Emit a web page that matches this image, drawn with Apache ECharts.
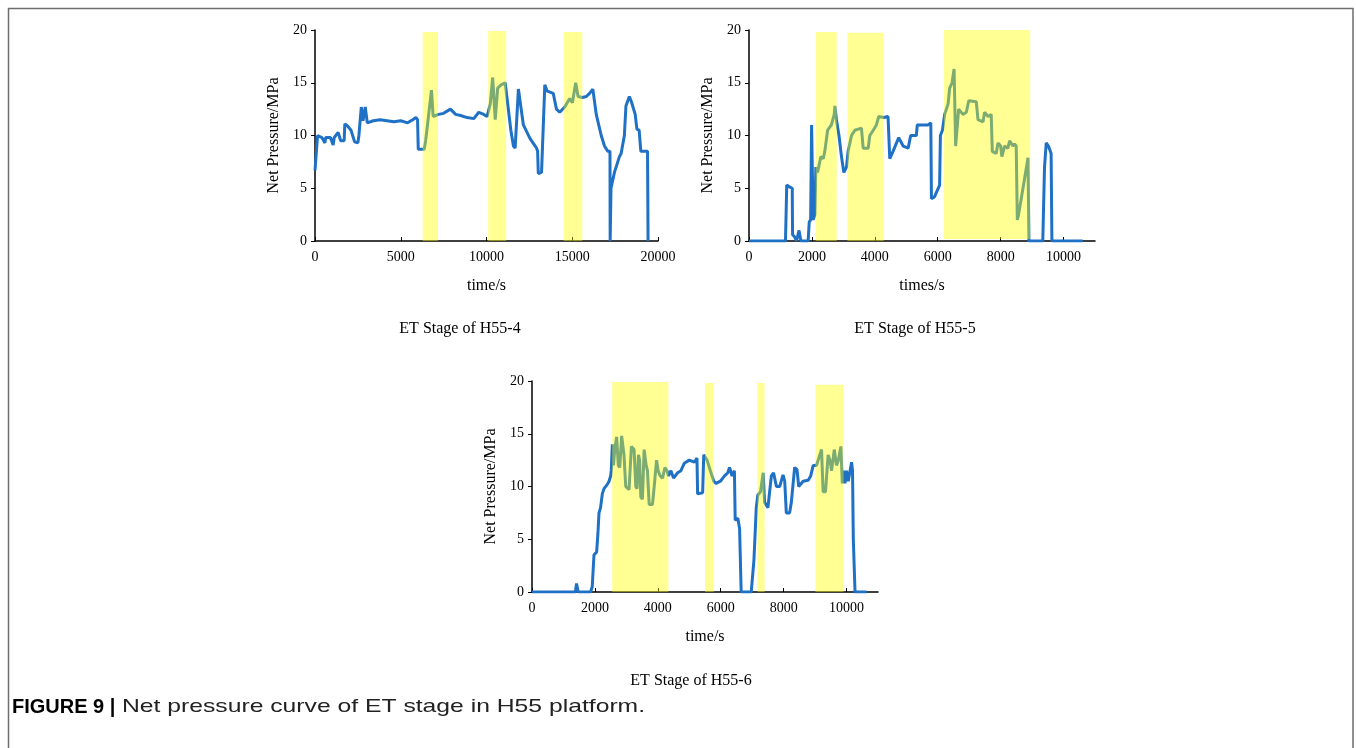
<!DOCTYPE html>
<html><head><meta charset="utf-8">
<script src="https://cdn.jsdelivr.net/npm/echarts@6/dist/echarts.min.js"></script>
<style>html,body{margin:0;padding:0;background:#fff}#c{width:1356px;height:748px}</style>
</head><body><div id="c"></div><script>
// ---- H55-4 ----
const t1 = [0,150,400,580,620,900,1060,1120,1350,1450,1500,1700,1740,1900,2100,2310,2500,2560,2700,2800,2930,3050,3400,3800,4200,4600,5000,5400,5700,5880,5980,6020,6370,6450,6560,6790,6890,7200,7500,7900,8200,8490,8870,9260,9550,9840,10030,10220,10360,10510,10650,10850,11090,11190,11420,11570,11670,11860,12150,12540,12920,12980,13020,13210,13400,13540,13890,14080,14270,14560,14850,15010,15200,15340,15590,15820,16010,16200,16400,16690,16880,17070,17200,17210,17260,17460,17750,17850,18040,18130,18330,18450,18560,18670,18770,18900,19000,19390,19420];
const p1 = [6.7,10.0,9.8,9.3,9.8,9.8,9.1,9.8,10.3,10.3,9.5,9.5,11.1,10.9,10.5,9.4,9.3,10,12.7,11.4,12.7,11.2,11.4,11.5,11.4,11.3,11.4,11.2,11.5,11.7,11.5,8.7,8.7,9.5,11.0,14.3,11.8,12.0,12.1,12.5,12.0,11.9,11.7,11.6,12.2,12.0,11.8,13.0,15.5,11.5,14.5,14.8,15.0,15.0,10.5,9.0,8.8,14.4,11.0,9.7,8.8,8.5,6.4,6.5,14.8,14.2,14.0,12.5,12.2,12.7,13.5,13.1,15.0,13.7,13.6,13.7,14.0,14.4,12.0,10.0,9.0,8.5,8.5,0,5.0,6.5,8.0,8.3,10.0,12.8,13.7,13.2,13.3,12.0,10.6,10.5,8.5,8.5,0];
const bands1 = [[6280,7170,19.8],[10100,11150,19.9],[14500,15590,19.8]];
// ---- H55-5 ----
const t2 = [0,1160,1200,1300,1375,1385,1450,1510,1590,1650,1880,1915,1960,1990,2040,2095,2125,2180,2285,2360,2410,2500,2620,2710,2730,2780,2860,2940,3015,3100,3150,3260,3365,3575,3630,3790,3840,3950,4050,4125,4285,4420,4475,4580,4690,4760,4900,5060,5140,5320,5350,5690,5780,5800,5900,6060,6085,6150,6220,6330,6380,6455,6520,6570,6665,6800,6910,6985,7225,7280,7440,7490,7600,7700,7735,7860,7915,8000,8040,8125,8230,8285,8390,8440,8495,8530,8570,8710,8870,8900,9340,9395,9450,9520,9605,9630,10610];
const p2 = [0,0,5.3,5.1,5.0,0.6,0.4,0,1.0,0,0,1.8,2.0,11.0,2.0,2.5,7.0,6.5,8.0,7.8,8.5,10.5,11.0,12.0,12.8,11.5,10.0,8.0,6.5,7.0,8.5,10.0,10.5,10.7,8.8,8.8,10.0,10.5,11.0,11.8,11.7,11.8,7.8,8.5,9.3,9.8,9.0,8.8,10.0,10.0,11.0,11.0,11.2,4.0,4.2,5.3,10.0,10.5,12.0,13.0,14.5,15.0,16.3,9.0,12.5,12.0,12.2,13.3,13.2,11.5,11.3,12.2,11.8,12.0,8.5,8.3,9.3,9.0,8.0,9.0,8.8,9.5,9.0,9.2,9.0,2.0,2.5,5.0,7.9,0,0,7.0,9.3,9.0,8.3,0,0];
const bands2 = [[2120,2790,0,19.8],[3130,4285,0,19.75],[6195,8940,0.2,20]];
// ---- H55-6 ----
const t3 = [0,1380,1415,1470,1860,1915,1970,2055,2095,2130,2180,2235,2290,2395,2450,2500,2520,2555,2590,2630,2690,2745,2790,2850,2925,2980,3085,3160,3245,3300,3340,3385,3420,3460,3510,3565,3630,3670,3725,3830,3885,3960,4010,4075,4150,4225,4290,4340,4415,4500,4630,4735,4840,5000,5160,5245,5265,5425,5460,5565,5670,5780,5850,5990,6120,6225,6280,6360,6435,6460,6545,6600,6650,6970,7055,7130,7180,7265,7350,7395,7500,7610,7680,7770,7875,7980,8035,8085,8190,8245,8350,8425,8480,8620,8780,8860,8940,9045,9205,9255,9330,9415,9470,9525,9610,9680,9740,9820,9865,9905,9950,10000,10055,10160,10190,10215,10270,10640];
const p3 = [0,0,0.8,0,0,0.5,3.5,3.8,5.5,7.5,8.0,9.3,9.8,10.2,10.5,11.0,11.5,14.0,12.0,13.5,14.7,12.0,11.8,14.8,13.0,10.0,9.7,13.8,13.5,10.0,9.8,13.0,12.5,9.0,8.8,13.5,12.0,11.5,8.3,8.3,10.0,12.5,11.5,11.0,10.8,11.8,11.5,11.0,11.5,10.8,11.3,11.5,12.2,12.5,12.3,12.7,9.3,9.4,13.0,12.5,11.5,10.5,10.3,10.5,11.0,11.3,11.8,11.0,11.5,6.8,7.0,6.0,0,0,3.0,8.0,9.2,9.5,11.3,8.5,8.0,11.0,11.3,10.0,10.0,11.1,10.5,7.5,7.5,8.5,11.8,11.6,10.0,10.5,10.6,11.0,12.0,12.0,13.5,9.5,9.5,13.0,12.5,11.5,13.5,12.0,12.5,13.8,10.3,11.5,10.3,11.5,10.5,12.3,11.5,5.0,0,0];
const bands3 = [[2550,4335,0,19.9],[5500,5780,0,19.8],[7170,7395,0,19.8],[9010,9905,0,19.65]];

const xTicks1 = [0,5000,10000,15000,20000];
const xTicks23 = [0,2000,4000,6000,8000,10000];
const yTicks = [0,5,10,15,20];
const titles = ['ET Stage of H55-4','ET Stage of H55-5','ET Stage of H55-6'];
const xNames = ['time/s','times/s','time/s'];
const yName = 'Net Pressure/MPa';
const captionLead = 'FIGURE 9 |';
const caption = 'Net pressure curve of ET stage in H55 platform.';

const SERIF = 'Liberation Serif';
const BLUE = '#1f71c6';

function xAx(gi, max, ticks, name){
  return {type:'value', gridIndex:gi, min:0, max:max,
    axisLine:{show:true, onZero:false, lineStyle:{color:'#000', width:1.5}},
    axisTick:{show:true, inside:true, length:4, customValues:ticks, lineStyle:{color:'#000', width:1}},
    axisLabel:{color:'#000', fontFamily:SERIF, fontSize:14, margin:9, customValues:ticks, formatter:v=>String(v)},
    splitLine:{show:false},
    name:name, nameLocation:'middle', nameGap:37,
    nameTextStyle:{color:'#000', fontFamily:SERIF, fontSize:16}};
}
function yAx(gi){
  return {type:'value', gridIndex:gi, min:0, max:20, interval:5,
    axisLine:{show:true, onZero:false, lineStyle:{color:'#000', width:1.5}},
    axisTick:{show:true, inside:false, length:4, lineStyle:{color:'#000', width:1}},
    axisLabel:{color:'#000', fontFamily:SERIF, fontSize:14, margin:8, customValues:yTicks, formatter:v=>String(v)},
    splitLine:{show:false},
    name:yName, nameLocation:'middle', nameGap:33,
    nameTextStyle:{color:'#000', fontFamily:SERIF, fontSize:16}};
}
function pairs(t,p){ return t.map((v,i)=>[v,p[i]]); }
function lineSeries(gi,t,p){
  return {type:'line', xAxisIndex:gi, yAxisIndex:gi, data:pairs(t,p), showSymbol:false,
    lineStyle:{color:BLUE, width:3}, itemStyle:{color:BLUE}, z:2, silent:true, animation:false};
}
function bandSeries(gi, bands){
  return {type:'line', xAxisIndex:gi, yAxisIndex:gi, data:[], z:5, silent:true, animation:false,
    markArea:{silent:true, z:10, itemStyle:{color:'rgba(255,255,0,0.42)'},
      data:bands.map(b=>{
        const lo = b.length===4 ? b[2] : 0, hi = b.length===4 ? b[3] : b[2];
        return [{xAxis:b[0], yAxis:lo},{xAxis:b[1], yAxis:hi}];
      })}};
}

const chart = echarts.init(document.getElementById('c'), null, {renderer:'canvas'});
chart.setOption({
  animation:false,
  backgroundColor:'#fff',
  grid:[
    {left:315, top:30, width:343, height:211},
    {left:749, top:30, width:346, height:211},
    {left:532, top:381, width:346, height:211}
  ],
  xAxis:[xAx(0,20000,xTicks1,xNames[0]), xAx(1,11000,xTicks23,xNames[1]), xAx(2,11000,xTicks23,xNames[2])],
  yAxis:[yAx(0), yAx(1), yAx(2)],
  series:[
    lineSeries(0,t1,p1), bandSeries(0,bands1),
    lineSeries(1,t2,p2), bandSeries(1,bands2),
    lineSeries(2,t3,p3), bandSeries(2,bands3)
  ],
  graphic:[
    {type:'rect', shape:{x:8.5, y:8.5, width:1344.5, height:780}, style:{fill:null, stroke:'#6e6e6e', lineWidth:1.5}, silent:true},
    {type:'text', x:460, y:329, style:{text:titles[0], font:'16px "Liberation Serif"', fill:'#000', align:'center', verticalAlign:'middle'}},
    {type:'text', x:915, y:329, style:{text:titles[1], font:'16px "Liberation Serif"', fill:'#000', align:'center', verticalAlign:'middle'}},
    {type:'text', x:691, y:681, style:{text:titles[2], font:'16px "Liberation Serif"', fill:'#000', align:'center', verticalAlign:'middle'}},
    {type:'text', x:12, y:707, style:{text:captionLead, font:'bold 20px "Liberation Sans"', fill:'#000', verticalAlign:'middle'}},
    {type:'text', x:122, y:707, scaleX:1.3, originX:0, originY:0, style:{text:caption, font:'19px "Liberation Sans"', fill:'#222', verticalAlign:'middle'}}
  ]
});
</script></body></html>
